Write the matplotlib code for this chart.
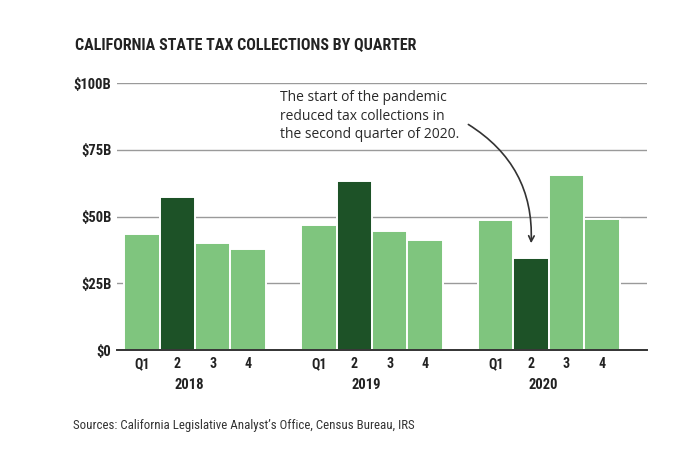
import numpy as np
import matplotlib.pyplot as plt
from matplotlib import font_manager
import matplotlib.transforms as mtransforms

years = ["2018", "2019", "2020"]
quarters = ["Q1", "2", "3", "4"]
collections_2018 = [43.5, 57.5, 40.0, 37.7]
collections_2019 = [47.0, 63.2, 44.6, 41.1]
collections_2020 = [48.7, 34.6, 65.6, 49.2]
highlight_quarter = "2"

light_green = "#7fc57e"
dark_green = "#1d5227"

names = {f.name for f in font_manager.fontManager.ttflist}
narrow = [f for f in ["Roboto Condensed", "Liberation Sans Narrow"] if f in names]
plt.rcParams["font.family"] = narrow + ["DejaVu Sans"]

fig = plt.figure(figsize=(7, 4.67), dpi=100)
ax = fig.add_axes([0.167, 0.2505, 0.757, 0.5711])

series = [collections_2018, collections_2019, collections_2020]
positions = []
labels = []
for g, vals in enumerate(series):
    for q, v in enumerate(vals):
        x = g * 5 + q
        color = dark_green if quarters[q] == highlight_quarter else light_green
        ax.bar(x, v, width=1.0, color=color, edgecolor="white", linewidth=1.4, zorder=3)
        positions.append(x)
        labels.append(quarters[q])

ax.set_xlim(-0.71, 14.27)
ax.set_ylim(0, 100)
ax.set_yticks([0, 25, 50, 75, 100])
ax.set_yticklabels(["$0", "$25B", "$50B", "$75B", "$100B"], fontsize=10.5, fontweight="bold", color="#222222")
ax.set_xticks(positions)
ax.set_xticklabels(labels, fontsize=10, fontweight="bold", color="#222222")
ax.tick_params(axis="y", length=0, pad=4)
ax.tick_params(axis="x", length=0, pad=5)
ax.grid(axis="y", color="#9a9a9a", linewidth=1.0, zorder=0)
for s in ["top", "right", "left"]:
    ax.spines[s].set_visible(False)
ax.spines["bottom"].set_color("#333333")
ax.spines["bottom"].set_linewidth(1.4)
ax.spines["bottom"].set_zorder(4)

trans = mtransforms.blended_transform_factory(ax.transData, fig.transFigure)
for g, yr in enumerate(years):
    ax.text(g * 5 + 1.35, 1 - 385 / 467, yr, transform=trans, ha="center", va="center",
            fontsize=10.5, fontweight="bold", color="#222222")

fig.text(75 / 700, 1 - 45 / 467, "CALIFORNIA STATE TAX COLLECTIONS BY QUARTER",
         fontsize=11.5, fontweight="bold", color="#222222", va="center", ha="left")
fig.text(73 / 700, 1 - 425.5 / 467,
         "Sources: California Legislative Analyst\u2019s Office, Census Bureau, IRS",
         fontsize=9.3, color="#333333", va="center", ha="left")

ax.text(280 / 700, 1 - 116 / 467,
        "The start of the pandemic\nreduced tax collections in\nthe second quarter of 2020.",
        transform=fig.transFigure, fontsize=10, family=["Open Sans", "DejaVu Sans"],
        color="#2a2a2a", va="center", ha="left", linespacing=1.3)
ax.annotate("", xy=(531 / 700, 1 - 246 / 467), xycoords="figure fraction",
            xytext=(466 / 700, 1 - 123 / 467), textcoords="figure fraction",
            arrowprops=dict(arrowstyle="->", color="#333333", lw=1.2,
                            connectionstyle="arc3,rad=-0.3"), zorder=5)

fig.savefig("out.png", dpi=100)
